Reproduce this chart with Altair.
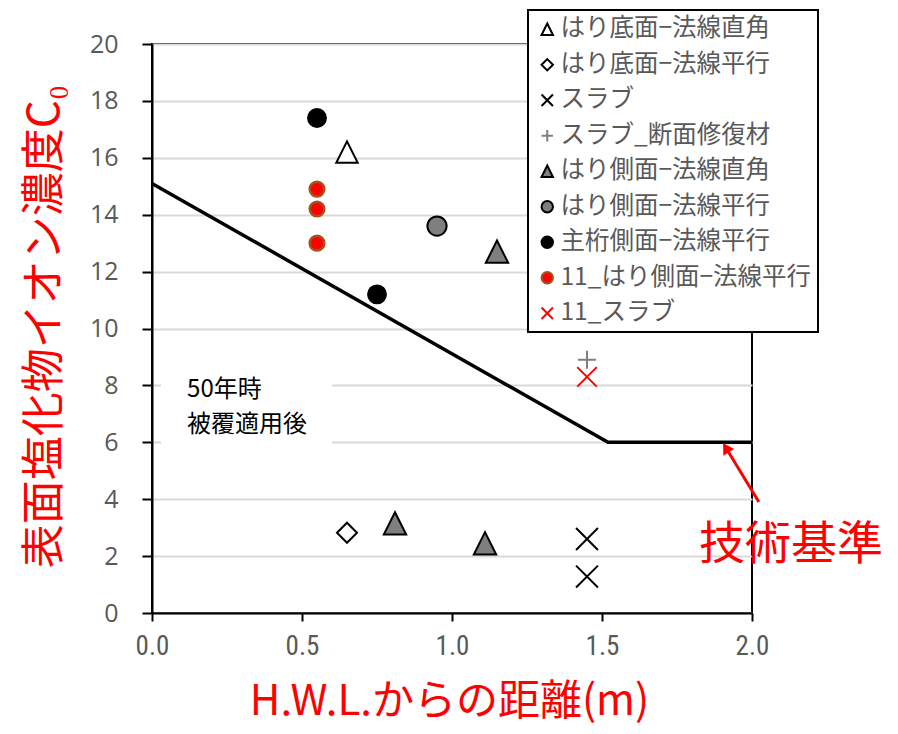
import altair as alt
import pandas as pd

# ---------------- data ----------------
series_names = [
    "はり底面−法線直角",
    "はり底面−法線平行",
    "スラブ",
    "スラブ_断面修復材",
    "はり側面−法線直角",
    "はり側面−法線平行",
    "主桁側面−法線平行",
    "11_はり側面−法線平行",
    "11_スラブ",
]
bottom_perp_x = [0.65]
bottom_perp_y = [16.2]
bottom_par_x = [0.65]
bottom_par_y = [2.82]
slab_x = [1.45, 1.45]
slab_y = [2.6, 1.28]
slab_repair_x = [1.45]
slab_repair_y = [8.9]
side_perp_x = [0.81, 1.11, 1.15]
side_perp_y = [3.15, 2.45, 12.7]
side_par_x = [0.95]
side_par_y = [13.6]
girder_x = [0.55, 0.75]
girder_y = [17.4, 11.2]
r11_side_x = [0.55, 0.55, 0.55]
r11_side_y = [14.9, 14.2, 13.0]
r11_slab_x = [1.45]
r11_slab_y = [8.3]

std_x = [0.0, 1.52, 2.0]
std_y = [15.1, 6.0, 6.0]

x_ticks = [0.0, 0.5, 1.0, 1.5, 2.0]
y_ticks = [0, 2, 4, 6, 8, 10, 12, 14, 16, 18, 20]

# ---------------- styles ----------------
X_PATH = "M-1,-1L1,1M-1,1L1,-1"
PLUS_PATH = "M-1,0L1,0M0,-1L0,1"
TRI_PATH = "M0,-1L1,1L-1,1Z"
shapes = [TRI_PATH, "diamond", X_PATH, PLUS_PATH, TRI_PATH, "circle", "circle", "circle", X_PATH]
fills = ["white", "white", "transparent", "transparent", "#7f7f7f", "#7f7f7f", "black", "#ff0000", "transparent"]
strokes = ["black", "black", "black", "#7f7f7f", "black", "black", "black", "#a5521b", "#ff0000"]
sizes = [460, 400, 480, 320, 500, 370, 320, 215, 380]
stroke_widths = [2, 2, 2, 2, 2, 2, 2, 2.5, 2]

xs = [bottom_perp_x, bottom_par_x, slab_x, slab_repair_x, side_perp_x,
      side_par_x, girder_x, r11_side_x, r11_slab_x]
ys = [bottom_perp_y, bottom_par_y, slab_y, slab_repair_y, side_perp_y,
      side_par_y, girder_y, r11_side_y, r11_slab_y]

rows = []
for i, name in enumerate(series_names):
    for xv, yv in zip(xs[i], ys[i]):
        rows.append({"series": name, "x": xv, "y": yv,
                     "sz": sizes[i], "sw": stroke_widths[i]})
pts = pd.DataFrame(rows)
std = pd.DataFrame({"x": std_x, "y": std_y, "o": list(range(len(std_x)))})

JP = "Noto Sans CJK JP"
X_TITLE = "H.W.L.からの距離(m)"
Y_TITLE = "表面塩化物イオン濃度C₀"

legend = alt.Legend(
    title=None, orient="none", legendX=376, legendY=-34,
    fillColor="white", strokeColor="black", padding=7,
    labelFont=JP, labelFontSize=24.5, labelColor="#595959", labelLimit=500,
    labelOffset=1, symbolSize=130, symbolStrokeWidth=2, rowPadding=10.5,
)

x_axis = alt.Axis(
    values=x_ticks, format=".1f", grid=False, title=X_TITLE,
    labelFont="Liberation Sans Narrow, Roboto Condensed, Roboto", labelFontSize=27,
    labelColor="#595959", labelPadding=12, labelFlush=False, labelOverlap=False,
    tickColor="black", tickWidth=2, tickSize=8,
    domainColor="black", domainWidth=2,
    titleFont=JP, titleFontSize=42, titleColor="#ff0000", titleFontWeight="normal",
    titleX=297, titleY=88, titleBaseline="middle", titleAlign="center",
)
y_axis = alt.Axis(
    values=y_ticks, grid=True, gridColor="#d9d9d9", gridWidth=2, title=Y_TITLE,
    labelFont="Open Sans", labelFontSize=25, labelColor="#595959", labelPadding=24,
    tickColor="black", tickWidth=2, tickSize=10,
    domainColor="black", domainWidth=2,
    titleFont=JP, titleFontSize=44, titleColor="#ff0000", titleFontWeight="normal",
    titleX=-107, titleY=282, titleAngle=270, titleBaseline="middle", titleAlign="center",
)

xs_scale = alt.Scale(domain=[0, 2], nice=False, zero=False)
ys_scale = alt.Scale(domain=[0, 20], nice=False, zero=False)

points = alt.Chart(pts).mark_point(filled=True, opacity=1).encode(
    x=alt.X("x:Q", scale=xs_scale, axis=x_axis),
    y=alt.Y("y:Q", scale=ys_scale, axis=y_axis),
    shape=alt.Shape("series:N", scale=alt.Scale(domain=series_names, range=shapes), legend=legend),
    fill=alt.Fill("series:N", scale=alt.Scale(domain=series_names, range=fills), legend=legend),
    stroke=alt.Stroke("series:N", scale=alt.Scale(domain=series_names, range=strokes), legend=legend),
    size=alt.Size("sz:Q", scale=None, legend=None),
    strokeWidth=alt.StrokeWidth("sw:Q", scale=None, legend=None),
)

line = alt.Chart(std).mark_line(color="black", strokeWidth=3.5).encode(
    x="x:Q", y="y:Q", order="o:Q"
)

white_box = alt.Chart().mark_rect(fill="white").encode(
    x=alt.datum(0.03), x2=alt.datum(0.6), y=alt.datum(8.7), y2=alt.datum(5.7)
)
txt1 = alt.Chart().mark_text(align="left", baseline="middle", font=JP, fontSize=24, color="black").encode(
    x=alt.datum(0.117), y=alt.datum(7.84), text=alt.value("50年時")
)
txt2 = alt.Chart().mark_text(align="left", baseline="middle", font=JP, fontSize=24, color="black").encode(
    x=alt.datum(0.117), y=alt.datum(6.61), text=alt.value("被覆適用後")
)
std_label = alt.Chart().mark_text(align="center", baseline="middle", font=JP, fontSize=46, color="#ff0000").encode(
    x=alt.datum(2.13), y=alt.datum(2.39), text=alt.value("技術基準")
)
arrow_rule = alt.Chart().mark_rule(color="#ff0000", strokeWidth=3).encode(
    x=alt.datum(2.023), y=alt.datum(3.9), x2=alt.datum(1.913), y2=alt.datum(5.81)
)
arrow_head = alt.Chart().mark_point(shape="triangle-up", filled=True, color="#ff0000",
                                    size=160, angle=328.6, opacity=1).encode(
    x=alt.datum(1.913), y=alt.datum(5.81)
)

chart = alt.layer(
    white_box, line, points, txt1, txt2, std_label, arrow_rule, arrow_head
).properties(
    width=600, height=569,
    autosize=alt.AutoSizeParams(type="none"),
    padding={"left": 144, "top": 36, "right": 130, "bottom": 113},
).configure_view(
    stroke="black", strokeWidth=2
).configure_legend(
    strokeWidth=2
)

chart.save("out.html", embed_options={"renderer": "svg", "actions": False})
